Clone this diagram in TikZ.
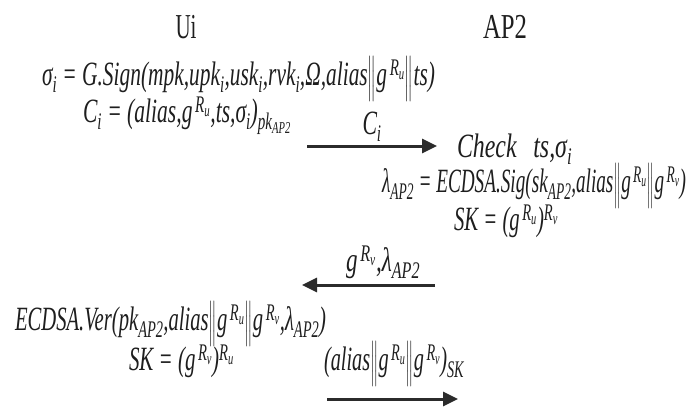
\documentclass[tikz,border=0pt]{standalone}
\usepackage{amsmath}
\usepackage{graphicx}
\usepackage{fontspec}
\setmainfont{Liberation Serif}
\usetikzlibrary{arrows.meta}
\newcommand\ssb[1]{\ensuremath{_{\text{#1}}}}
\newcommand\gR[1]{\ensuremath{\text{g}^{\,\text{R}_{\text{#1}}}}}
\newcommand\dbar{\ensuremath{\Big\|}}
\newcommand\fitw[2]{\resizebox{#1pt}{\height}{#2}}
\definecolor{arrowgray}{HTML}{2B2B2B}
\definecolor{inkgray}{HTML}{1E1E1E}
\begin{document}
\begin{tikzpicture}[x=1pt,y=-1pt,
  every node/.style={inner sep=0pt,outer sep=0pt,text=inkgray,font=\fontsize{34}{40}\selectfont\itshape},
  head/.style={font=\fontsize{35}{40}\selectfont\upshape},
  msg/.style={draw=arrowgray,line width=3pt,-{Triangle[length=15pt,width=14pt]}}]
\useasboundingbox (0,0) rectangle (699,407);
% headers
\node[head,anchor=base] (ui) at (186,38) {\fitw{21}{Ui}};
\node[head,anchor=base] (ap) at (505,38) {\fitw{44}{AP2}};
% Ui side
\node[anchor=base west] (l1) at (42,85) {\fitw{393}{σ\ssb{i} = G.Sign(mpk,upk\ssb{i},usk\ssb{i},rvk\ssb{i},Ω,alias\dbar\gR{u}\dbar ts)}};
\node[anchor=base west] (l2) at (83,122) {\fitw{208}{C\ssb{i} = (alias,\gR{u},ts,σ\ssb{i})\ssb{pk\ssb{AP2}}}};
% arrow 1
\coordinate (a1s) at (307,146);
\coordinate (a1e) at (437,146);
\draw[msg] (a1s) -- (a1e);
\node[anchor=base] (c1) at (372,134) {\fitw{19}{C\ssb{i}}};
% AP2 side
\node[anchor=base west] (chk) at (457,157) {\fitw{115}{Check\hspace{0.7em}ts,σ\ssb{i}}};
\node[anchor=base west] (lam) at (382,192) {\fitw{304}{λ\ssb{AP2} = ECDSA.Sig(sk\ssb{AP2},alias\dbar\gR{u}\dbar\gR{v})}};
\node[anchor=base west] (sk2) at (454,230) {\fitw{104}{SK = (\gR{u})\ensuremath{^{\text{R}_{\text{v}}}}}};
% arrow 2
\node[anchor=base west] (m2) at (346,271) {\fitw{74}{\gR{v},λ\ssb{AP2}}};
\coordinate (a2s) at (435,285);
\coordinate (a2e) at (302,285);
\draw[msg] (a2s) -- (a2e);
% Ui verify
\node[anchor=base west] (ver) at (15,330) {\fitw{311}{ECDSA.Ver(pk\ssb{AP2},alias\dbar\gR{u}\dbar\gR{v},λ\ssb{AP2})}};
\node[anchor=base west] (sk1) at (129,370) {\fitw{105}{SK = (\gR{v})\ensuremath{^{\text{R}_{\text{u}}}}}};
% arrow 3
\node[anchor=base west] (m3) at (324,370) {\fitw{140}{(alias\dbar\gR{u}\dbar\gR{v})\ssb{SK}}};
\coordinate (a3s) at (327,399);
\coordinate (a3e) at (458,399);
\draw[msg] (a3s) -- (a3e);
\end{tikzpicture}
\end{document}
